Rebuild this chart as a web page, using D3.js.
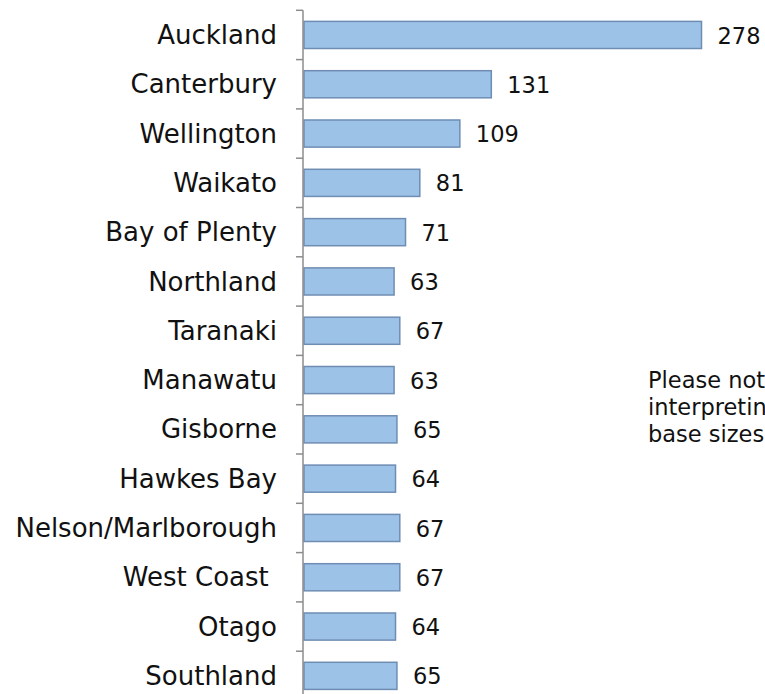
<!DOCTYPE html>
<html>
<head>
<meta charset="utf-8">
<script src="https://cdn.jsdelivr.net/npm/d3@7"></script>
<style>
  html, body { margin: 0; padding: 0; background: #fff; }
  svg { display: block; }
  text { font-family: "DejaVu Sans", "Liberation Sans", sans-serif; fill: #111; }
</style>
</head>
<body>
<svg id="chart" width="765" height="694"></svg>
<script>
// Regions, top to bottom
const regions = [
  "Auckland", "Canterbury", "Wellington", "Waikato", "Bay of Plenty",
  "Northland", "Taranaki", "Manawatu", "Gisborne", "Hawkes Bay",
  "Nelson/Marlborough", "West Coast ", "Otago", "Southland"
];
// Base size per region
const counts = [278, 131, 109, 81, 71, 63, 67, 63, 65, 64, 67, 67, 64, 65];
// Side note lines
const noteLines = ["Please not", "interpretin", "base sizes"];

const svg = d3.select("#chart");
const axisX = 303;
const plotTop = 10.3, step = 49.3;

const y = d3.scaleBand()
  .domain(regions)
  .range([plotTop, plotTop + step * regions.length])
  .paddingInner(0.45)
  .paddingOuter(0.225);

const x = d3.scaleLinear()
  .domain([0, 278])
  .range([axisX + 1, 701.5]);

// Bars
svg.append("g")
  .selectAll("rect")
  .data(counts)
  .join("rect")
  .attr("x", x(0))
  .attr("y", (d, i) => y(regions[i]))
  .attr("width", d => x(d) - x(0))
  .attr("height", y.bandwidth())
  .attr("fill", "#9cc2e8")
  .attr("stroke", "#6f8db3")
  .attr("stroke-width", 1.5);

// Value labels
svg.append("g")
  .selectAll("text")
  .data(counts)
  .join("text")
  .attr("x", d => x(d) + 16)
  .attr("y", (d, i) => y(regions[i]) + y.bandwidth() / 2)
  .attr("dy", "0.38em")
  .attr("font-size", 22.5)
  .text(d => d);

// Category axis with ticks at band boundaries
const axisG = svg.append("g");
axisG.append("line")
  .attr("x1", axisX).attr("x2", axisX)
  .attr("y1", plotTop).attr("y2", plotTop + step * regions.length)
  .attr("stroke", "#8c8c8c").attr("stroke-width", 1.5);
axisG.selectAll("line.tick")
  .data(d3.range(regions.length + 1))
  .join("line")
  .attr("class", "tick")
  .attr("x1", axisX - 7).attr("x2", axisX)
  .attr("y1", i => plotTop + step * i)
  .attr("y2", i => plotTop + step * i)
  .attr("stroke", "#8c8c8c").attr("stroke-width", 1.5);

axisG.selectAll("text")
  .data(regions)
  .join("text")
  .attr("x", 277)
  .attr("y", d => y(d) + y.bandwidth() / 2)
  .attr("dy", "0.35em")
  .attr("text-anchor", "end")
  .attr("font-size", 26)
  .style("white-space", "pre")
  .text(d => d);

// Side note, running off the right edge
svg.append("g")
  .selectAll("text")
  .data(noteLines)
  .join("text")
  .attr("x", 648)
  .attr("y", (d, i) => 388 + i * 27)
  .attr("font-size", 22.5)
  .text(d => d);
</script>
</body>
</html>
